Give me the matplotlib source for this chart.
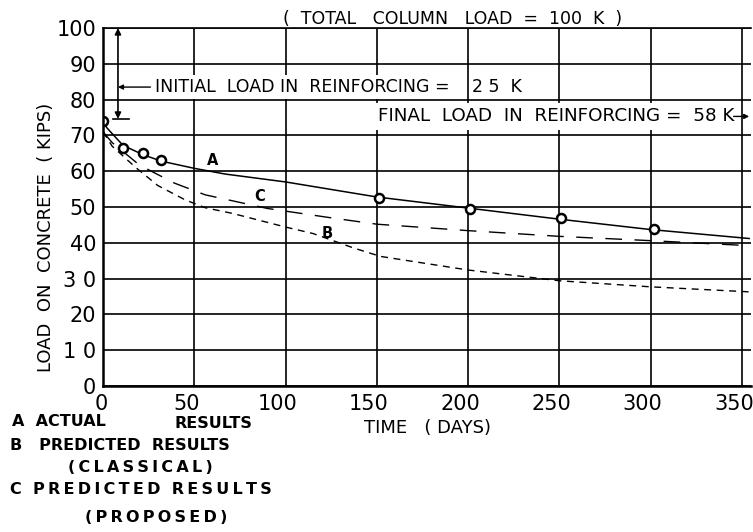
import matplotlib
matplotlib.use("Agg")
import matplotlib.pyplot as plt
import matplotlib.transforms as mtransforms

# actual test results (circles)
days_actual = [0, 11, 22, 32, 151, 201, 251, 302]
load_actual = [74, 66.5, 65, 63, 52.5, 49.5, 46.9, 43.8]

# curve A - actual results
days_a = [0, 2, 5, 11, 22, 32, 50, 67, 100, 150, 200, 250, 300, 354]
load_a = [74, 72.2, 70.5, 67.2, 64.6, 62.8, 60.8, 59.2, 57, 52.8, 49.7, 46.6, 43.7, 41.2]

# curve B - predicted results (classical)
days_b = [0, 5, 18, 30, 45, 56, 71, 100, 115, 137, 152, 200, 250, 300, 354]
load_b = [71, 67, 61, 56, 52, 49.8, 48.2, 44.4, 42.6, 38.6, 36.2, 32.4, 29.4, 27.7, 26.3]

# curve C - predicted results (proposed)
days_c = [0, 5, 20, 39, 56, 90, 126, 150, 200, 250, 300, 354]
load_c = [71, 68, 61.7, 56.7, 53.4, 49.6, 46.9, 45.2, 43.4, 41.8, 40.6, 39.2]

xticks = [0, 50, 100, 150, 200, 250, 300, 350]
yticks = [0, 10, 20, 30, 40, 50, 60, 70, 80, 90, 100]
ytick_labels = ["0", "1 0", "20", "3 0", "40", "50", "60", "70", "80", "90", "100"]


def thin(s):
    # hand lettering on the original is widely spaced
    return "\u2009".join(s)


fig = plt.figure(figsize=(7.53, 5.32), dpi=100)
ax = fig.add_axes([103 / 753, 1 - 386 / 532, 648 / 753, 358 / 532])

ax.plot(days_a, load_a, color="black", lw=1.1)
ax.plot(days_b, load_b, color="black", lw=1.0, dashes=(5, 4))
ax.plot(days_c, load_c, color="black", lw=1.0, dashes=(12, 9))
ax.plot(days_actual, load_actual, "o", ms=6.5, mfc="white", mec="black", mew=1.8)

ax.set_xlim(0, 355)
ax.set_ylim(0, 100)
ax.set_xticks(xticks)
ax.set_yticks(yticks)
ax.set_yticklabels(ytick_labels)
ax.tick_params(length=0, labelsize=15)
ax.tick_params(axis="x", pad=6)
ax.tick_params(axis="y", pad=5)
# labels on the original sit a little left of their grid lines
for i, lab in enumerate(ax.get_xticklabels()):
    dx = -2 if i == 0 else -8
    shift = mtransforms.ScaledTranslation(dx / 100, 0, fig.dpi_scale_trans)
    lab.set_transform(lab.get_transform() + shift)
ax.grid(True, color="black", lw=1.2)
ax.set_axisbelow(True)
ax.spines["right"].set_visible(False)
for s in ["left", "bottom"]:
    ax.spines[s].set_linewidth(1.8)
ax.spines["top"].set_linewidth(1.2)

# curve labels
ax.text(60, 63, "A", fontsize=10.5, fontweight="bold", ha="center", va="center")
ax.text(86, 52.8, "C", fontsize=10.5, fontweight="bold", ha="center", va="center")
ax.text(123, 42.7, "B", fontsize=10.5, fontweight="bold", ha="center", va="center")

# initial load dimension arrow
ax.annotate("", xy=(8.2, 100), xytext=(8.2, 74.6),
            arrowprops=dict(arrowstyle="<|-|>", color="black", lw=1.2, mutation_scale=9,
                            shrinkA=0, shrinkB=0))
ax.plot([5.5, 14], [74.6, 74.6], color="black", lw=1.2)
ax.annotate("", xy=(8.2, 83.5), xytext=(26, 83.5),
            arrowprops=dict(arrowstyle="-|>", color="black", lw=1.0, mutation_scale=7,
                            shrinkA=0, shrinkB=0))
ax.text(28.5, 83.5, "INITIAL  LOAD IN  REINFORCING =", fontsize=12.5, ha="left",
        va="center", bbox=dict(facecolor="white", edgecolor="none", pad=2))
ax.text(202, 83.5, "2 5  K", fontsize=12.5, ha="left", va="center")

# final load text
ax.text(150.5, 75.3, "FINAL  LOAD  IN  REINFORCING =  58 K", fontsize=13.2, ha="left",
        va="center", bbox=dict(facecolor="white", edgecolor="none", pad=3))
ax.annotate("", xy=(354, 75.3), xytext=(345.5, 75.3),
            arrowprops=dict(arrowstyle="-|>", color="black", lw=1.0, mutation_scale=7,
                            shrinkA=0, shrinkB=0))

fig.text(453 / 753, 1 - 19 / 532, "(  TOTAL   COLUMN   LOAD  =  100  K  )", fontsize=12.5,
         ha="center", va="center")

fig.text(427 / 753, 1 - 428 / 532, "TIME   ( DAYS)", fontsize=13, ha="center", va="center")
fig.text(46 / 753, 1 - 237 / 532, "LOAD  ON  CONCRETE  ( KIPS)", fontsize=13,
         rotation=90, ha="center", va="center")

# key below the chart
fig.text(12 / 753, 1 - 421 / 532, "A  ACTUAL", fontsize=11.5, fontweight="bold", va="center")
fig.text(175 / 753, 1 - 424 / 532, "RESULTS", fontsize=11.5, fontweight="bold", va="center")
fig.text(10 / 753, 1 - 446 / 532, "B   PREDICTED  RESULTS", fontsize=11.5, fontweight="bold",
         va="center")
fig.text(68 / 753, 1 - 467 / 532, thin("(CLASSICAL)"), fontsize=11.5, fontweight="bold",
         va="center")
fig.text(10 / 753, 1 - 490 / 532, "C  " + thin("PREDICTED") + "  " + thin("RESULTS"),
         fontsize=11.5, fontweight="bold", va="center")
fig.text(85 / 753, 1 - 518 / 532, thin("(PROPOSED)"), fontsize=11.5, fontweight="bold",
         va="center")

fig.savefig("out.png", dpi=100)
